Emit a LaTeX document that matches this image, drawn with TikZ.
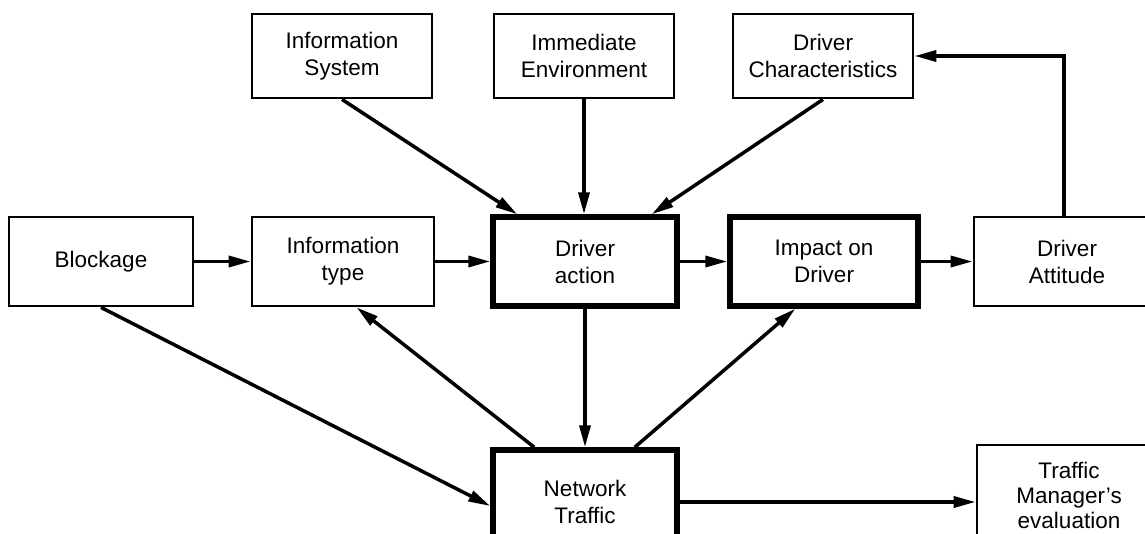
\documentclass[tikz,border=0pt]{standalone}
\usepackage{fontspec}
\setmainfont{Liberation Sans}
\usetikzlibrary{arrows.meta}
\begin{document}
\begin{tikzpicture}[x=1pt,y=-1pt,
  box/.style={draw, line width=2.8pt, minimum width=184pt, inner sep=2pt, align=center, font=\fontsize{22.5}{27}\selectfont},
  thickbox/.style={box, line width=5.5pt},
  conn/.style={line width=3.5pt, -{Triangle[length=22pt,width=11pt]}}]
\useasboundingbox (0,0) rectangle (1145,533);
\clip (0,0) rectangle (1145,533);
% top row
\node[box, minimum width=180pt, minimum height=84pt] (isys) at (342,56) {Information\\System};
\node[box, minimum width=180pt, minimum height=84pt] (imm) at (584,56) {Immediate\\Environment};
\node[box, minimum width=180pt, minimum height=84pt] (dchar) at (823,56) {Driver\\Characteristics};
% middle row
\node[box, minimum height=89pt] (block) at (101,261.5) {Blockage};
\node[box, minimum width=182pt, minimum height=89pt] (itype) at (343,261.5) {Information\\type};
\node[thickbox, minimum height=89pt] (dact) at (585,261.5) {Driver\\action};
\node[thickbox, minimum width=188pt, minimum height=89pt] (impact) at (824,261.5) {Impact on\\Driver};
\node[box, minimum width=186pt, minimum height=89pt] (att) at (1067,261.5) {Driver\\Attitude};
% bottom row
\node[thickbox, minimum height=104pt] (net) at (585,502) {Network\\Traffic};
\node[box, minimum height=100pt, font=\fontsize{22.5}{25}\selectfont] (tman) at (1069,495) {Traffic\\Manager's\\evaluation};
% connectors
\draw[conn] (isys.south) -- ([xshift=27pt]dact.north west);
\draw[conn] (imm.south) -- (imm.south |- dact.north);
\draw[conn] (dchar.south) -- ([xshift=-28pt]dact.north east);
\draw[conn] (block.east) -- (itype.west);
\draw[conn] (itype.east) -- (dact.west);
\draw[conn] (dact.east) -- (impact.west);
\draw[conn] (impact.east) -- (att.west);
\draw[conn] ([xshift=-3pt]att.north) |- (dchar.east);
\draw[conn] (dact.south) -- (net.north);
\draw[conn] ([xshift=44pt]net.north west) -- ([xshift=106pt]itype.south west);
\draw[conn] ([xshift=-45pt]net.north east) -- ([xshift=68pt]impact.south west);
\draw[conn] (block.south) -- ([yshift=-4pt]net.west);
\draw[conn] (net.east) -- (net.east -| tman.west);
\end{tikzpicture}
\end{document}
